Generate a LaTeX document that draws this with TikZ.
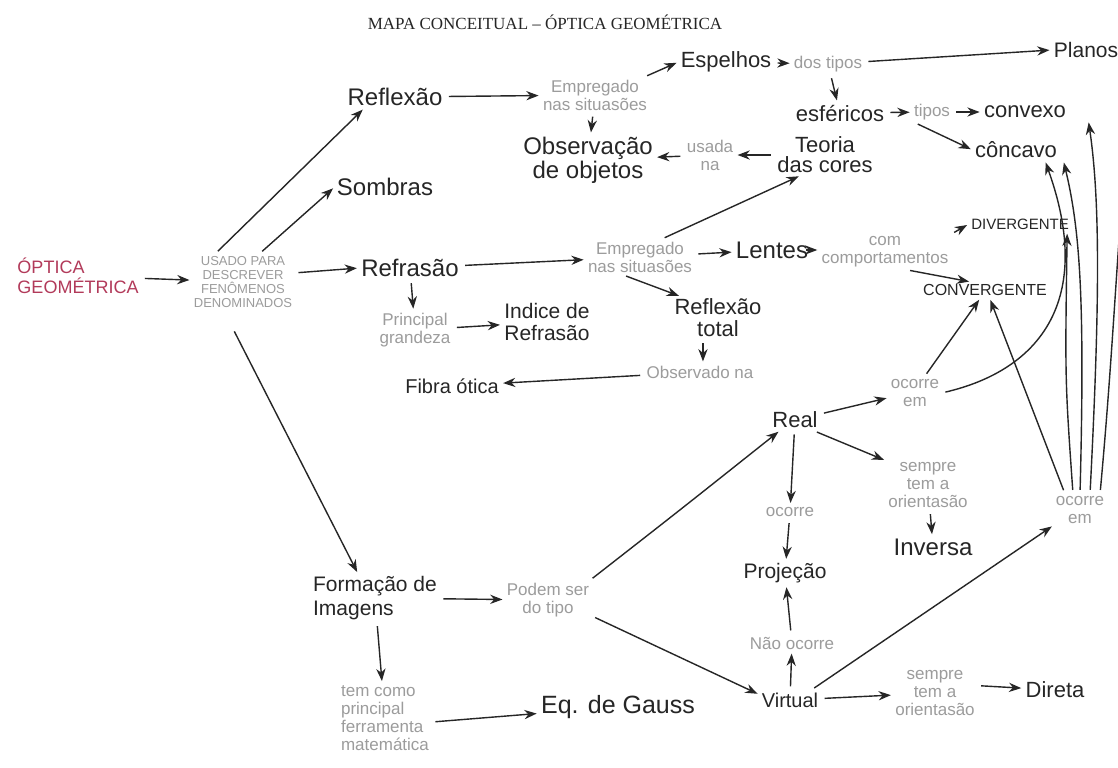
\documentclass[tikz,border=0pt]{standalone}
\usepackage{fontspec}
\setmainfont{Liberation Sans}
\newfontfamily\titlefont{Liberation Serif}
\usetikzlibrary{arrows.meta,positioning}
\definecolor{ink}{HTML}{262626}
\definecolor{pencil}{HTML}{9C9C9C}
\definecolor{redink}{HTML}{B23A5A}

\begin{document}
\begin{tikzpicture}[x=0.5pt, y=-0.5pt,
  >=Stealth,
  concept/.style={text=ink, align=center, inner sep=1pt, font=\fontsize{11}{12}\selectfont},
  link/.style={text=pencil, align=center, inner sep=1pt, font=\fontsize{8.5}{9}\selectfont},
  arr/.style={->, draw=ink, line width=0.7pt, shorten >=1pt, shorten <=2pt}]
  \useasboundingbox[fill=white] (0,0) rectangle (1118,767);

  \node[font=\titlefont\fontsize{8.5}{9}\selectfont, text=ink] (title) at (545,22) {MAPA CONCEITUAL – ÓPTICA GEOMÉTRICA};

  \node[concept, text=redink, align=left, font=\fontsize{9}{10}\selectfont] (optica) at (78,276) {ÓPTICA\\GEOMÉTRICA};
  \node[link, font=\fontsize{6.5}{7}\selectfont] (usado) at (243,282) {USADO PARA\\DESCREVER\\FENÔMENOS\\DENOMINADOS};

  \node[concept, font=\fontsize{12}{12}\selectfont] (reflexao) at (395,97) {Reflexão};
  \node[concept, font=\fontsize{12}{12}\selectfont] (sombras) at (385,187) {Sombras};
  \node[concept, font=\fontsize{12}{12}\selectfont] (refracao) at (410,268) {Refrasão};

  \node[link] (emp1) at (595,95) {Empregado\\nas situasões};
  \node[concept, font=\fontsize{12}{12}\selectfont] (obs) at (588,160) {Observação\\de objetos};
  \node[concept] (espelhos) at (726,62) {Espelhos};
  \node[link] (dostipos) at (828,64) {dos tipos};
  \node[concept, font=\fontsize{10.5}{11}\selectfont] (planos) at (1086,50) {Planos};
  \node[concept] (esfericos) at (840,113) {esféricos};
  \node[link] (tipos) at (932,112) {tipos};
  \node[concept] (convexo) at (1025,112) {convexo};
  \node[concept] (concavo) at (1016,150) {côncavo};
  \node[concept, font=\fontsize{11}{10}\selectfont] (teoria) at (825,155) {Teoria\\das cores};
  \node[link] (usada) at (710,155) {usada\\na};

  \node[link] (emp2) at (640,257) {Empregado\\nas situasões};
  \node[concept, font=\fontsize{12}{12}\selectfont] (lentes) at (772,250) {Lentes};
  \node[link] (com) at (885,252) {com\\comportamentos};
  \node[concept, font=\fontsize{7.5}{8}\selectfont] (divergente) at (1020,224) {DIVERGENTE};
  \node[concept, font=\fontsize{8}{9}\selectfont] (convergente) at (985,290) {CONVERGENTE};
  \node[link] (principal) at (415,330) {Principal\\grandeza};
  \node[concept, font=\fontsize{10.5}{11}\selectfont] (indice) at (547,322) {Indice de\\Refrasão};
  \node[concept, font=\fontsize{11}{11}\selectfont] (reftotal) at (718,318) {Reflexão\\total};
  \node[link] (observado) at (700,372) {Observado na};
  \node[concept, font=\fontsize{10}{11}\selectfont] (fibra) at (452,386) {Fibra ótica};

  \node[concept] (real) at (795,420) {Real};
  \node[link] (ocorre1) at (915,393) {ocorre\\em};
  \node[link] (sempre1) at (928,485) {sempre\\tem a\\orientasão};
  \node[concept, font=\fontsize{12}{12}\selectfont] (inversa) at (933,547) {Inversa};
  \node[link] (ocorre2) at (790,512) {ocorre};
  \node[concept, font=\fontsize{10.5}{11}\selectfont] (projecao) at (785,573) {Projeção};
  \node[link] (naoocorre) at (792,643) {Não ocorre};
  \node[concept, font=\fontsize{10}{11}\selectfont] (virtual) at (790,700) {Virtual};
  \node[link] (sempre2) at (935,693) {sempre\\tem a\\orientasão};
  \node[concept] (direta) at (1055,690) {Direta};
  \node[link] (ocorre3) at (1080,510) {ocorre\\em};

  \node[concept, font=\fontsize{10.5}{12}\selectfont, align=left] (formacao) at (375,598) {Formação de\\Imagens};
  \node[link] (podem) at (548,600) {Podem ser\\do tipo};
  \node[link, align=left] (temcomo) at (385,718) {tem como\\principal\\ferramenta\\matemática};
  \node[concept, font=\fontsize{12.5}{13}\selectfont] (gauss) at (618,707) {Eq. de Gauss};

  \draw[arr] (optica) -- (usado);
  \draw[arr] (usado.135) -- (reflexao.200);
  \draw[arr] (usado.60) -- (sombras.west);
  \draw[arr] (usado.10) -- (refracao.west);
  \draw[arr, shorten <=12pt] (usado.-125) -- (formacao.125);

  \draw[arr] (reflexao) -- (emp1);
  \draw[arr] (emp1.20) -- (espelhos.west);
  \draw[arr] (emp1) -- (obs);
  \draw[arr] (espelhos) -- (dostipos);
  \draw[arr] (dostipos) -- (planos.west);
  \draw[arr] (dostipos) -- (esfericos);
  \draw[arr] (esfericos) -- (tipos);
  \draw[arr] (tipos) -- (convexo);
  \draw[arr] (tipos.-150) -- (concavo.west);
  \draw[arr] (teoria) -- (usada);
  \draw[arr] (usada) -- (obs);
  \draw[arr] (emp2.40) -- (teoria.220);

  \draw[arr] (refracao) -- (principal);
  \draw[arr] (refracao) -- (emp2);
  \draw[arr] (principal) -- (indice);
  \draw[arr] (emp2) -- (lentes);
  \draw[arr] (emp2.-135) -- (reftotal.150);
  \draw[arr] (lentes.east) -- (com.west |- lentes.east);
  \draw[arr] (com.15) -- (divergente.west);
  \draw[arr] (com.-40) -- (convergente.150);
  \draw[arr] (reftotal.-125) -- (observado.north -| reftotal.-125);
  \draw[arr] (observado) -- (fibra);

  \draw[arr] (real) -- (ocorre1.190);
  \draw[arr] (ocorre1.60) -- (convergente.-120);
  \draw[arr] (ocorre1.east) .. controls (1040,370) and (1095,300) .. (concavo.-20);
  \draw[arr] (real) -- (ocorre2);
  \draw[arr] (ocorre2) -- (projecao);
  \draw[arr] (real.-30) -- (sempre1.150);
  \draw[arr] (sempre1) -- (inversa);
  \draw[arr] (naoocorre) -- (projecao);
  \draw[arr] (virtual) -- (naoocorre);
  \draw[arr] (virtual) -- (sempre2);
  \draw[arr] (sempre2.10) -- (direta);
  \draw[arr] (virtual.25) -- (ocorre3.-150);

  \draw[arr] ([xshift=-7.5pt]ocorre3.north) -- (convergente.-60);
  \draw[arr] ([xshift=-3.5pt]ocorre3.north) .. controls (1065,380) .. ([xshift=-2pt]divergente.south east);
  \draw[arr] ([xshift=0pt]ocorre3.north) .. controls (1085,300) and (1080,230) .. ([xshift=2pt]concavo.south east);
  \draw[arr] ([xshift=5pt]ocorre3.north) .. controls (1100,300) and (1100,200) .. ([xshift=10pt]convexo.south east);
  \draw[arr] ([xshift=10pt]ocorre3.north) .. controls (1118,300) and (1120,150) .. ([xshift=10pt]planos.south east);

  \draw[arr] (formacao) -- (podem);
  \draw[arr] (podem.25) .. controls (680,510) .. (real.215);
  \draw[arr] (podem.-20) -- (virtual.170);
  \draw[arr] (formacao) -- (temcomo);
  \draw[arr] (temcomo.-5) -- (gauss);
\end{tikzpicture}
\end{document}
